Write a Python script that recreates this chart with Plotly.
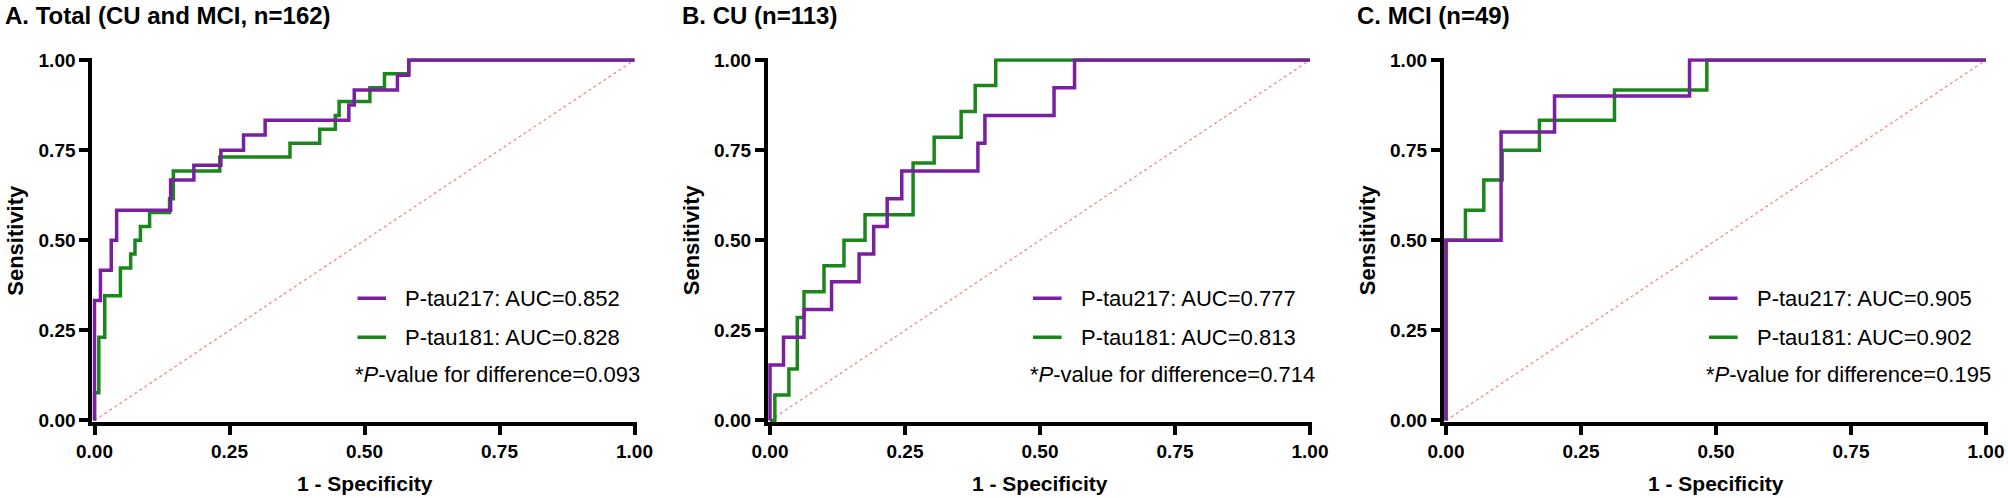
import plotly.graph_objects as go

# ---------------- data ----------------
panel_titles = ["A. Total (CU and MCI, n=162)", "B. CU (n=113)", "C. MCI (n=49)"]
auc_217 = ["0.852", "0.777", "0.905"]
auc_181 = ["0.828", "0.813", "0.902"]
p_values = ["0.093", "0.714", "0.195"]
tick_vals = [0, 0.25, 0.5, 0.75, 1.0]
tick_text = ["0.00", "0.25", "0.50", "0.75", "1.00"]

# ROC step points (1 - specificity, sensitivity); drawn with horizontal-then-vertical steps
A_p217_fpr = [0, 0, 0.011, 0.031, 0.041, 0.141, 0.184, 0.234, 0.276, 0.316, 0.471, 0.481, 0.561, 0.582, 1.0]
A_p217_tpr = [0, 0.333, 0.417, 0.500, 0.583, 0.667, 0.708, 0.750, 0.792, 0.833, 0.875, 0.917, 0.958, 1.0, 1.0]
A_p181_fpr = [0, 0, 0.008, 0.019, 0.048, 0.067, 0.075, 0.085, 0.102, 0.139, 0.146, 0.232, 0.362, 0.417, 0.446, 0.453, 0.510, 0.537, 0.582, 1.0]
A_p181_tpr = [0, 0.077, 0.231, 0.346, 0.423, 0.462, 0.500, 0.538, 0.577, 0.615, 0.692, 0.731, 0.769, 0.808, 0.846, 0.885, 0.923, 0.962, 1.0, 1.0]

B_p217_fpr = [0, 0, 0.025, 0.063, 0.114, 0.165, 0.192, 0.217, 0.244, 0.385, 0.398, 0.526, 0.564, 1.0]
B_p217_tpr = [0, 0.154, 0.231, 0.308, 0.385, 0.462, 0.538, 0.615, 0.692, 0.769, 0.846, 0.923, 1.0, 1.0]
B_p181_fpr = [0, 0.009, 0.035, 0.0505, 0.063, 0.100, 0.137, 0.176, 0.265, 0.304, 0.354, 0.380, 0.418, 1.0]
B_p181_tpr = [0, 0.071, 0.143, 0.286, 0.357, 0.429, 0.500, 0.571, 0.714, 0.786, 0.857, 0.929, 1.0, 1.0]

C_p217_fpr = [0, 0, 0.102, 0.201, 0.451, 1.0]
C_p217_tpr = [0, 0.500, 0.800, 0.900, 1.0, 1.0]
C_p181_fpr = [0, 0, 0.036, 0.070, 0.104, 0.173, 0.312, 0.483, 1.0]
C_p181_tpr = [0, 0.500, 0.583, 0.667, 0.750, 0.833, 0.917, 1.0, 1.0]

diag = [0, 1]

curves_217 = [(A_p217_fpr, A_p217_tpr), (B_p217_fpr, B_p217_tpr), (C_p217_fpr, C_p217_tpr)]
curves_181 = [(A_p181_fpr, A_p181_tpr), (B_p181_fpr, B_p181_tpr), (C_p181_fpr, C_p181_tpr)]

# ---------------- style / layout ----------------
W, H = 2008, 498
PURPLE = "#7A1FA2"
GREEN = "#1B861B"
DIAG = "#F08A8A"
FONT = "Liberation Sans, Arial, sans-serif"

x_left_px = [94.5, 770.0, 1446.0]
plot_w = 540.0
y_top_px, y_bot_px = 60.0, 420.5
plot_h = y_bot_px - y_top_px
padx, pady = 0.004, 0.005

fig = go.Figure()
annotations = []
shapes = []

for i in range(3):
    ax = "" if i == 0 else str(i + 1)
    xr, yr = "x" + ax, "y" + ax

    fig.add_trace(go.Scatter(x=diag, y=diag, mode="lines", xaxis=xr, yaxis=yr,
                             line=dict(color=DIAG, width=1.3, dash="dot"),
                             showlegend=False, hoverinfo="skip"))
    fx, fy = curves_181[i]
    fig.add_trace(go.Scatter(x=fx, y=fy, mode="lines", line_shape="hv", xaxis=xr, yaxis=yr,
                             line=dict(color=GREEN, width=3.5), showlegend=False,
                             name="P-tau181"))
    px_, py_ = curves_217[i]
    fig.add_trace(go.Scatter(x=px_, y=py_, mode="lines", line_shape="hv", xaxis=xr, yaxis=yr,
                             line=dict(color=PURPLE, width=3.5), showlegend=False,
                             name="P-tau217"))

    left = x_left_px[i] - plot_w * padx
    right = x_left_px[i] + plot_w * (1 + padx)
    bottom = y_bot_px + plot_h * pady
    top = y_top_px - plot_h * pady
    axis_common = dict(showgrid=False, zeroline=False, showline=True, linewidth=4,
                       linecolor="black", ticks="outside", ticklen=9, tickwidth=4,
                       tickcolor="black", tickvals=tick_vals, ticktext=tick_text,
                       tickfont=dict(family=FONT, size=19, color="black", weight="bold"),
                       layer="below traces", fixedrange=True, automargin=False)
    fig.update_layout(**{
        "xaxis" + ax: dict(domain=[left / W, right / W], range=[-padx, 1 + padx],
                           anchor=yr, **axis_common),
        "yaxis" + ax: dict(domain=[1 - bottom / H, 1 - top / H], range=[-pady, 1 + pady],
                           anchor=xr, **axis_common),
    })

    title_x = [3, 680, 1355][i]
    annotations.append(dict(text=panel_titles[i], x=title_x / W, y=1 - 15 / H,
                            xref="paper", yref="paper", xanchor="left", yanchor="middle",
                            showarrow=False,
                            font=dict(family=FONT, size=24, color="black", weight="bold")))
    annotations.append(dict(text="1 - Specificity", x=(x_left_px[i] + plot_w / 2) / W,
                            y=1 - 483 / H, xref="paper", yref="paper", xanchor="center",
                            yanchor="middle", showarrow=False,
                            font=dict(family=FONT, size=21, color="black", weight="bold")))
    annotations.append(dict(text="Sensitivity", x=(x_left_px[i] - 79) / W,
                            y=1 - (y_top_px + plot_h / 2) / H, xref="paper", yref="paper",
                            xanchor="center", yanchor="middle", textangle=-90, showarrow=False,
                            font=dict(family=FONT, size=22, color="black", weight="bold")))

    for label, auc, col, yy in [("P-tau217", auc_217[i], PURPLE, 0.339),
                                ("P-tau181", auc_181[i], GREEN, 0.231)]:
        shapes.append(dict(type="line", xref=xr, yref=yr, x0=0.487, x1=0.540, y0=yy, y1=yy,
                           line=dict(color=col, width=3.5)))
        annotations.append(dict(text=f"{label}: AUC={auc}", x=0.572, y=yy, xref=xr, yref=yr,
                                xanchor="left", yanchor="middle", showarrow=False,
                                font=dict(family=FONT, size=22, color="black")))
    annotations.append(dict(text=f"*<i>P</i>-value for difference={p_values[i]}", x=0.478,
                            y=0.127, xref=xr, yref=yr, xanchor="left", yanchor="middle",
                            showarrow=False, font=dict(family=FONT, size=22, color="black")))

fig.update_layout(width=W, height=H, margin=dict(l=0, r=0, t=0, b=0, pad=0),
                  paper_bgcolor="white", plot_bgcolor="white",
                  annotations=annotations, shapes=shapes, showlegend=False)

fig.write_html("out.html", post_script="document.body.style.margin='0';document.body.style.overflow='hidden';")
